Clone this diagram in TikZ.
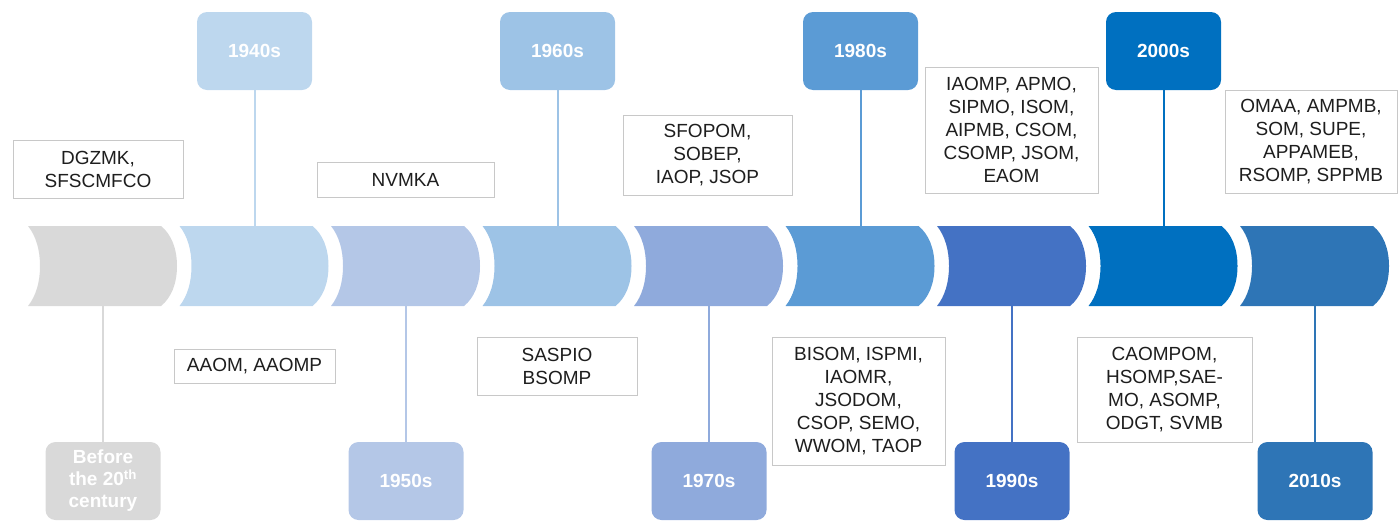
\documentclass[tikz,border=0pt]{standalone}
\usepackage{fontspec}
\setmainfont{Liberation Sans}
\definecolor{c0}{RGB}{217,217,217}
\definecolor{c1}{RGB}{189,215,238}
\definecolor{c2}{RGB}{180,199,231}
\definecolor{c3}{RGB}{157,195,230}
\definecolor{c4}{RGB}{143,170,220}
\definecolor{c5}{RGB}{91,155,213}
\definecolor{c6}{RGB}{68,114,196}
\definecolor{c7}{RGB}{0,112,192}
\definecolor{c8}{RGB}{46,117,182}
\definecolor{boxline}{RGB}{200,200,200}
\definecolor{txt}{RGB}{30,30,30}
\begin{document}
\begin{tikzpicture}[x=1pt,y=-1pt,
  datebox/.style={rounded corners=10pt, minimum width=115pt, minimum height=78pt, inner sep=0pt,
    text=white, align=center, font=\fontsize{19}{22}\selectfont\bfseries},
  infobox/.style={draw=boxline, line width=1pt, fill=white, inner sep=0pt, align=center,
    text=txt, font=\fontsize{19}{23}\selectfont},
  link/.style={line width=2pt}]
\useasboundingbox (0,0) rectangle (1399,520);
% timeline segments
\foreach \i/\c in {0/c0,1/c1,2/c2,3/c3,4/c4,5/c5,6/c6,7/c7,8/c8}{
  \pgfmathsetmacro\xo{28+151.5*\i}
  \fill[\c] (\xo,226) -- (\xo+133,226)
    .. controls (\xo+143,234) and (\xo+149,248) .. (\xo+149,266)
    .. controls (\xo+149,284) and (\xo+143,298) .. (\xo+133,306)
    -- (\xo,306)
    .. controls (\xo+8,296) and (\xo+12,282) .. (\xo+12,266)
    .. controls (\xo+12,250) and (\xo+8,236) .. cycle;
  \coordinate (s\i t) at (\xo+75,226);
  \coordinate (s\i b) at (\xo+75,306);
}
% date boxes
\node[datebox, fill=c0] (d0) at (103,481) {Before\\the 20\textsuperscript{th}\\century};
\node[datebox, fill=c1] (d1) at (254.5,51) {1940s};
\node[datebox, fill=c2] (d2) at (406,481) {1950s};
\node[datebox, fill=c3] (d3) at (557.5,51) {1960s};
\node[datebox, fill=c4] (d4) at (709,481) {1970s};
\node[datebox, fill=c5] (d5) at (860.5,51) {1980s};
\node[datebox, fill=c6] (d6) at (1012,481) {1990s};
\node[datebox, fill=c7] (d7) at (1163.5,51) {2000s};
\node[datebox, fill=c8] (d8) at (1315,481) {2010s};
% connectors
\draw[link, c0] (s0b) -- (d0.north);
\draw[link, c1] (d1.south) -- (s1t);
\draw[link, c2] (s2b) -- (d2.north);
\draw[link, c3] (d3.south) -- (s3t);
\draw[link, c4] (s4b) -- (d4.north);
\draw[link, c5] (d5.south) -- (s5t);
\draw[link, c6] (s6b) -- (d6.north);
\draw[link, c7] (d7.south) -- (s7t);
\draw[link, c8] (s8b) -- (d8.north);
% info boxes
\node[infobox, minimum width=170pt, minimum height=58pt] (b0) at (98,169) {DGZMK,\\SFSCMFCO};
\node[infobox, minimum width=161pt, minimum height=34pt] (b1) at (254.5,366) {AAOM, AAOMP};
\node[infobox, minimum width=177pt, minimum height=35pt] (b2) at (405.5,179.5) {NVMKA};
\node[infobox, minimum width=160pt, minimum height=58pt] (b3) at (557,366) {SASPIO\\BSOMP};
\node[infobox, minimum width=169pt, minimum height=80pt] (b4) at (707.5,155) {SFOPOM,\\SOBEP,\\IAOP, JSOP};
\node[infobox, minimum width=173pt, minimum height=128pt] (b5) at (858.5,401) {BISOM, ISPMI,\\IAOMR,\\JSODOM,\\CSOP, SEMO,\\WWOM, TAOP};
\node[infobox, minimum width=173pt, minimum height=126pt] (b6) at (1011.5,130) {IAOMP, APMO,\\SIPMO, ISOM,\\AIPMB, CSOM,\\CSOMP, JSOM,\\EAOM};
\node[infobox, minimum width=175pt, minimum height=105pt] (b7) at (1164.5,389.5) {CAOMPOM,\\HSOMP,SAE-\\MO, ASOMP,\\ODGT, SVMB};
\node[infobox, minimum width=172pt, minimum height=103pt] (b8) at (1311,141.5) {OMAA, AMPMB,\\SOM, SUPE,\\APPAMEB,\\RSOMP, SPPMB};
\end{tikzpicture}
\end{document}
